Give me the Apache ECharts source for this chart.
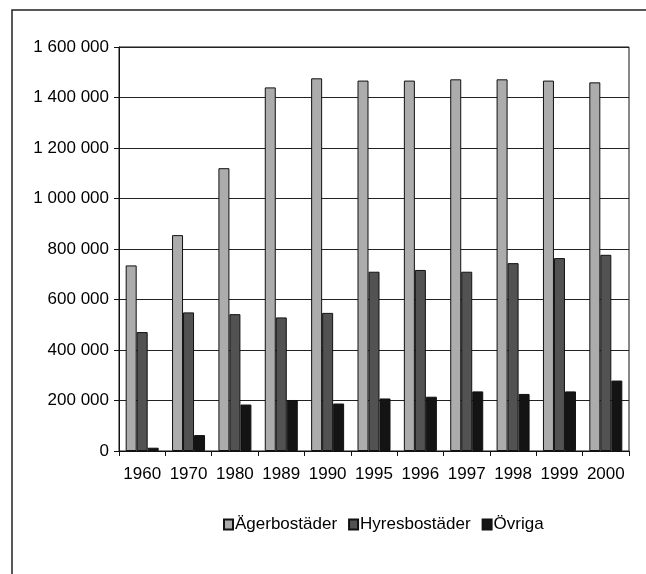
<!DOCTYPE html>
<html>
<head>
  <meta charset="utf-8">
  <title>Bostäder</title>
  <script src="https://cdn.jsdelivr.net/npm/echarts@6/dist/echarts.min.js"></script>
  <style>
    body { margin: 0; background: #fff; }
    #main { width: 646px; height: 574px; }
  </style>
</head>
<body>
<div id="main"></div>
<script type="text/javascript">
// årtal
const years = ['1960', '1970', '1980', '1989', '1990', '1995', '1996', '1997', '1998', '1999', '2000'];

// antal lägenheter
const agerbostader = [735000, 855000, 1120000, 1440000, 1476000, 1467000, 1467000, 1472000, 1472000, 1467000, 1460000];
const hyresbostader = [471000, 549000, 542000, 529000, 547000, 710000, 717000, 710000, 744000, 764000, 777000];
const ovriga = [13000, 63000, 184000, 202000, 188000, 208000, 215000, 236000, 226000, 236000, 279000];

const seriesNames = ['Ägerbostäder', 'Hyresbostäder', 'Övriga'];

const font = 'Liberation Sans, Arial, sans-serif';

function spaced(v) {
  return String(v).replace(/\B(?=(\d{3})+(?!\d))/g, ' ');
}

function bar(name, data, color) {
  return {
    name: name,
    type: 'bar',
    data: data,
    barWidth: 11,
    barGap: '0%',
    itemStyle: { color: color, borderColor: '#111', borderWidth: 1 },
    emphasis: { disabled: true }
  };
}

var option = {
  animation: false,
  backgroundColor: '#fff',
  textStyle: { fontFamily: font },
  graphic: [{
    type: 'rect',
    shape: { x: 12, y: 10, width: 700, height: 700 },
    style: { fill: 'none', stroke: '#222', lineWidth: 1.5 },
    silent: true
  }],
  grid: { left: 119, right: 17, top: 47, bottom: 123, show: true, borderColor: '#111', borderWidth: 1 },
  legend: {
    data: seriesNames,
    left: 218,
    top: 511,
    itemWidth: 9,
    itemHeight: 10,
    itemGap: 11,
    icon: 'rect',
    textStyle: { fontFamily: font, fontSize: 17, color: '#000', padding: [0, 0, 0, -3] }
  },
  xAxis: {
    type: 'category',
    data: years,
    axisLine: { lineStyle: { color: '#111', width: 1 } },
    axisTick: { show: true, length: 5, lineStyle: { color: '#111' } },
    axisLabel: { fontFamily: font, fontSize: 17, color: '#000', margin: 15, interval: 0 }
  },
  yAxis: {
    type: 'value',
    min: 0,
    max: 1600000,
    interval: 200000,
    axisLine: { show: true, lineStyle: { color: '#111', width: 1 } },
    axisTick: { show: true, length: 5, lineStyle: { color: '#111' } },
    axisLabel: { fontFamily: font, fontSize: 17, color: '#000', margin: 10, formatter: spaced },
    splitLine: { lineStyle: { color: '#222', width: 1 } }
  },
  series: [
    bar(seriesNames[0], agerbostader, '#acacac'),
    bar(seriesNames[1], hyresbostader, '#525252'),
    bar(seriesNames[2], ovriga, '#141414')
  ]
};

echarts.init(document.getElementById('main')).setOption(option);
</script>
</body>
</html>
